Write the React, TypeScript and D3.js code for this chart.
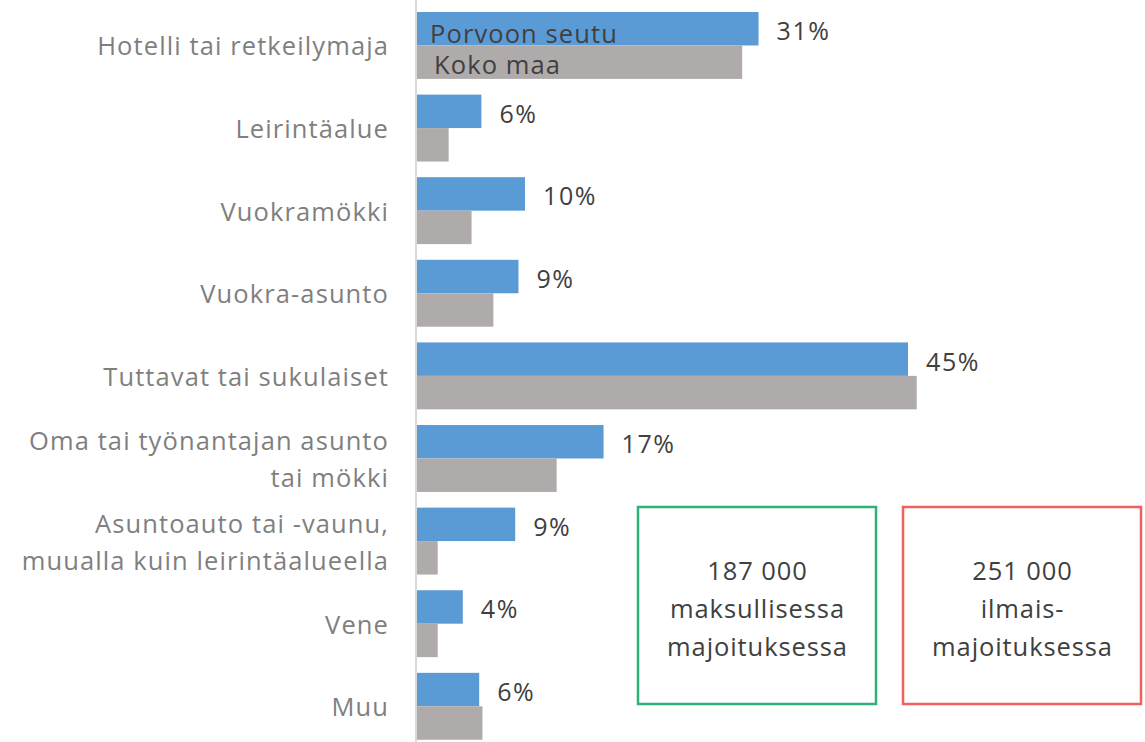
import React from "react";
import * as d3 from "d3";

const categories: string[][] = [
  ["Hotelli tai retkeilymaja"],
  ["Leirintäalue"],
  ["Vuokramökki"],
  ["Vuokra-asunto"],
  ["Tuttavat tai sukulaiset"],
  ["Oma tai työnantajan asunto", "tai mökki"],
  ["Asuntoauto tai -vaunu,", "muualla kuin leirintäalueella"],
  ["Vene"],
  ["Muu"],
];
const seriesNames = ["Porvoon seutu", "Koko maa"];
const porvoo = [31.3, 5.9, 9.9, 9.3, 45.0, 17.1, 9.0, 4.2, 5.7];
const kokoMaa = [29.8, 2.9, 5.0, 7.0, 45.8, 12.8, 1.9, 1.9, 6.0];
const boxes = [
  { lines: ["187 000", "maksullisessa", "majoituksessa"], color: "#2db37a" },
  { lines: ["251 000", "ilmais-", "majoituksessa"], color: "#f0605c" },
];

const W = 1145;
const H = 742;
const FONT = "'Open Sans', 'Noto Sans', sans-serif";

export default function App() {
  const keys = categories.map((c) => c.join(" "));
  const x = d3.scaleLinear().domain([0, 45]).range([417, 908]);
  const y = d3
    .scaleBand<string>()
    .domain(keys)
    .range([4.15, 747.6])
    .paddingInner(0.19)
    .paddingOuter(0.095);
  const inner = d3
    .scaleBand<string>()
    .domain(seriesNames)
    .range([0, y.bandwidth()]);
  const colors = ["#5b9bd5", "#afabab"];
  const data = [porvoo, kokoMaa];
  const fmt = (v: number) => `${Math.round(v)}%`;

  return (
    <svg
      width={W}
      height={H}
      style={{ position: "absolute", left: 0, top: 0, background: "#fff" }}
      fontFamily={FONT}
    >
      {keys.map((k, i) => {
        const cy = (y(k) as number) + y.bandwidth() / 2;
        const lines = categories[i];
        const lh = 37;
        return (
          <g key={k}>
            {lines.map((ln, j) => (
              <text
                key={j}
                x={389}
                y={cy + (j - (lines.length - 1) / 2) * lh}
                textAnchor="end"
                dominantBaseline="central"
                fontSize={25.5}
                letterSpacing={1.1}
                fill="#7f7f7f"
              >
                {ln}
              </text>
            ))}
            {seriesNames.map((s, si) => (
              <rect
                key={s}
                x={x(0)}
                y={(y(k) as number) + (inner(s) as number)}
                width={x(data[si][i]) - x(0)}
                height={inner.bandwidth()}
                fill={colors[si]}
              />
            ))}
            <text
              x={x(porvoo[i]) + 18}
              y={(y(k) as number) + (inner(seriesNames[0]) as number) + inner.bandwidth() / 2 + 1.5}
              dominantBaseline="central"
              fontSize={25}
              letterSpacing={1.6}
              fill="#404040"
            >
              {fmt(porvoo[i])}
            </text>
          </g>
        );
      })}
      <line x1={416} x2={416} y1={0} y2={H} stroke="#d9d9d9" strokeWidth={2} />
      <text
        x={430}
        y={(y(keys[0]) as number) + (inner(seriesNames[0]) as number) + inner.bandwidth() / 2 + 4}
        dominantBaseline="central"
        fontSize={25.5}
        letterSpacing={1.1}
        fill="#404040"
      >
        {seriesNames[0]}
      </text>
      <text
        x={434}
        y={(y(keys[0]) as number) + (inner(seriesNames[1]) as number) + inner.bandwidth() / 2 + 2}
        dominantBaseline="central"
        fontSize={25.5}
        letterSpacing={1.1}
        fill="#404040"
      >
        {seriesNames[1]}
      </text>
      {boxes.map((b, bi) => {
        const bx = 638 + bi * 265;
        const bw = 238;
        const by = 507;
        const bh = 197;
        return (
          <g key={bi}>
            <rect x={bx} y={by} width={bw} height={bh} fill="none" stroke={b.color} strokeWidth={2.5} />
            {b.lines.map((ln, j) => (
              <text
                key={j}
                x={bx + bw / 2 + 0.5}
                y={570 + j * 38}
                textAnchor="middle"
                dominantBaseline="central"
                fontSize={25.5}
                letterSpacing={0.9}
                fill="#404040"
              >
                {ln}
              </text>
            ))}
          </g>
        );
      })}
    </svg>
  );
}
